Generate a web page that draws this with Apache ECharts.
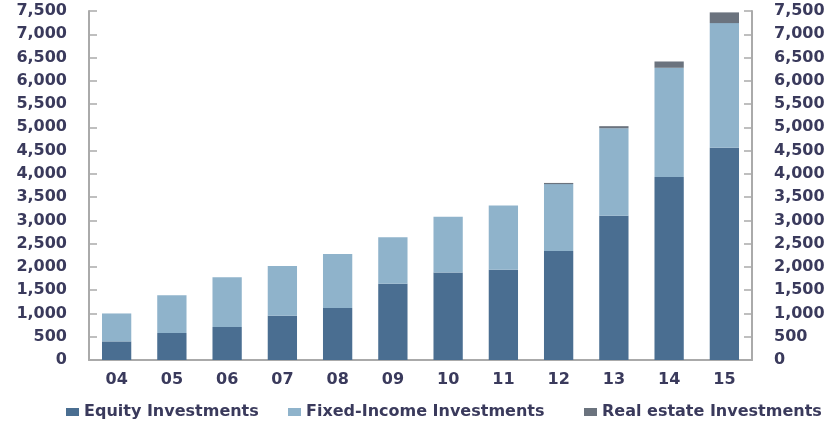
<!DOCTYPE html>
<html>
<head>
<meta charset="utf-8">
<script src="https://cdn.jsdelivr.net/npm/echarts@6/dist/echarts.min.js"></script>
<style>
html,body{margin:0;padding:0;background:#fff;}
#chart{width:840px;height:428px;}
</style>
</head>
<body>
<div id="chart"></div>
<script>
var categories = ['04','05','06','07','08','09','10','11','12','13','14','15'];
var equity = [400, 580, 710, 950, 1120, 1640, 1880, 1940, 2340, 3100, 3930, 4560];
var fixedIncome = [600, 810, 1070, 1070, 1160, 1000, 1200, 1380, 1440, 1880, 2350, 2680];
var realEstate = [0, 0, 0, 0, 0, 0, 0, 0, 25, 45, 135, 230];
var seriesNames = ['Equity Investments', 'Fixed-Income Investments', 'Real estate Investments'];
var colors = ['#4a6e91', '#8fb3cb', '#6b737e'];

var chart = echarts.init(document.getElementById('chart'));
var font = {fontFamily: 'DejaVu Sans', fontSize: 16, fontWeight: 'bold', color: '#3a3a5c'};
var yAxisCommon = {
  type: 'value', min: 0, max: 7500, interval: 500,
  axisLine: {show: true, lineStyle: {color: '#aaaaaa', width: 2}},
  axisTick: {show: true, inside: true, length: 8, lineStyle: {color: '#aaaaaa', width: 1.5}},
  splitLine: {show: false},
  axisLabel: Object.assign({margin: 22, formatter: function(v){ return v.toLocaleString('en-US'); }}, font)
};
var legendPos = [61, 283, 579];
var legends = seriesNames.map(function(n, i){
  return {
    top: 399, left: legendPos[i],
    itemWidth: 13, itemHeight: 8, itemGap: 0,
    icon: 'rect',
    textStyle: {fontFamily: 'DejaVu Sans', fontSize: 16, fontWeight: 'bold', color: '#3a3a5c'},
    data: [n]
  };
});
chart.setOption({
  animation: false,
  grid: {left: 89, right: 88, top: 11, bottom: 68},
  legend: legends,
  xAxis: {
    type: 'category', data: categories,
    axisLine: {show: true, lineStyle: {color: '#aaaaaa', width: 2}},
    axisTick: {show: false},
    axisLabel: Object.assign({margin: 12}, font)
  },
  yAxis: [
    Object.assign({position: 'left'}, yAxisCommon),
    Object.assign({position: 'right'}, yAxisCommon)
  ],
  series: [
    {name: seriesNames[0], type: 'bar', stack: 't', data: equity, barWidth: '53%', itemStyle: {color: colors[0]}},
    {name: seriesNames[1], type: 'bar', stack: 't', data: fixedIncome, itemStyle: {color: colors[1]}},
    {name: seriesNames[2], type: 'bar', stack: 't', data: realEstate, itemStyle: {color: colors[2]}}
  ]
});
</script>
</body>
</html>
